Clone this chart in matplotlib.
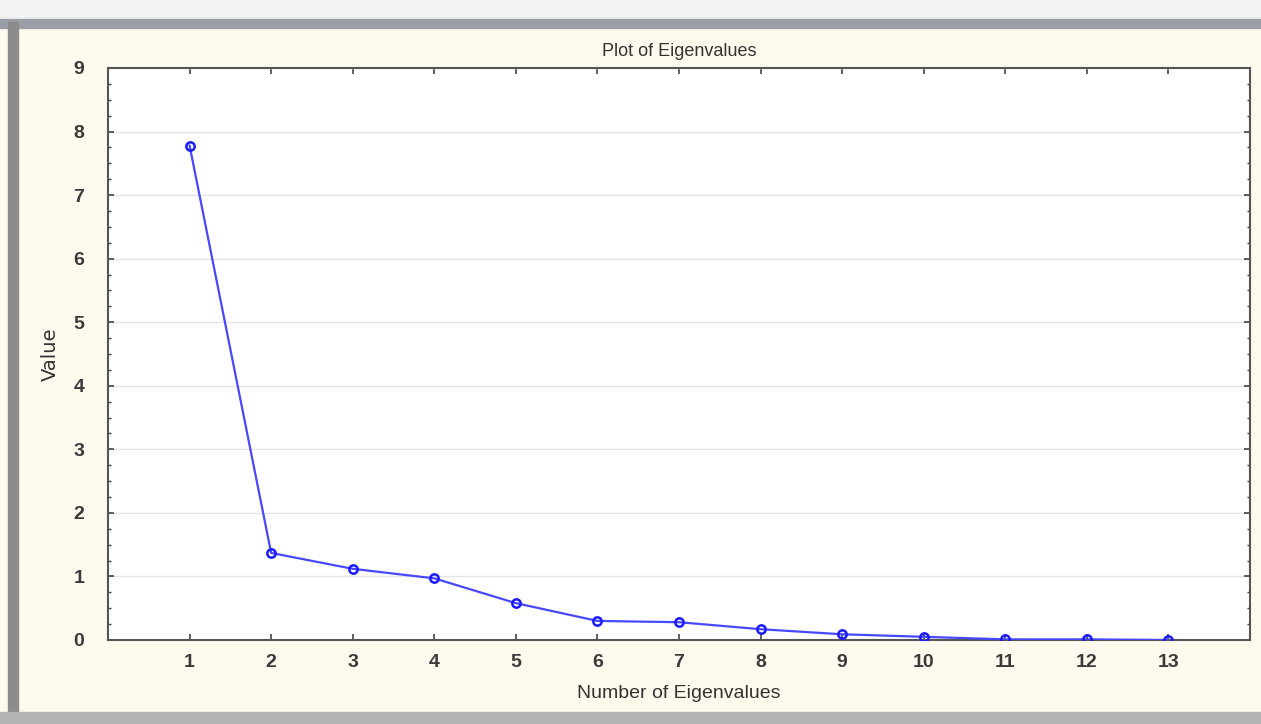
import matplotlib
matplotlib.use('Agg')
import matplotlib.pyplot as plt
from matplotlib.patches import Rectangle
from matplotlib.ticker import MultipleLocator

plt.rcParams['font.family'] = ['Liberation Sans', 'DejaVu Sans']

# eigenvalue data
numbers = [1, 2, 3, 4, 5, 6, 7, 8, 9, 10, 11, 12, 13]
eigenvalues = [7.78, 1.37, 1.12, 0.97, 0.58, 0.30, 0.28, 0.17, 0.09, 0.05, 0.01, 0.01, 0.0]
y_ticks = [0, 1, 2, 3, 4, 5, 6, 7, 8, 9]

fig = plt.figure(figsize=(12.61, 7.24), dpi=100)
fig.patch.set_facecolor('#fffaee')

# window frame bits from the screenshot
fig.patches.append(Rectangle((0, 0.972), 1, 0.028, transform=fig.transFigure, color='#f2f2f2', zorder=0))
fig.patches.append(Rectangle((0, 0.962), 1, 0.012, transform=fig.transFigure, color='#9a9ea6', zorder=0))
fig.patches.append(Rectangle((0.006, 0), 0.008, 0.97, transform=fig.transFigure, color='#8c8c8c', zorder=0))
fig.patches.append(Rectangle((0, 0), 1, 0.016, transform=fig.transFigure, color='#b4b4b4', zorder=0))

ax = fig.add_axes([108/1261, 1-640/724, (1250-108)/1261, (640-68)/724])
ax.set_facecolor('white')

ax.plot(numbers, eigenvalues, color='#4848ff', lw=1.6, marker='o', ms=6,
        mfc='none', mec='#1a1aff', mew=1.8, zorder=3)

ax.set_xlim(0, 14)
ax.set_ylim(0, 9)
ax.set_xticks(numbers)
ax.set_yticks(y_ticks)
ax.yaxis.set_minor_locator(MultipleLocator(0.25))
ax.grid(axis='y', which='major', color='#e4e4e4', lw=1)
ax.set_axisbelow(True)

ax.tick_params(axis='both', which='major', direction='in', length=4, width=1.2,
               top=True, right=True, colors='#444444', labelsize=14, pad=10)
ax.tick_params(axis='y', which='minor', direction='in', length=2, width=1,
               left=True, right=True, colors='#444444')
for lab in ax.get_xticklabels() + ax.get_yticklabels():
    lab.set_fontweight('bold')
    lab.set_color('#3a3a3a')
ax.tick_params(axis='y', pad=17)

for s in ax.spines.values():
    s.set_color('#555555')
    s.set_linewidth(1.5)

ax.set_title('Plot of Eigenvalues', fontsize=13, color='#333333', pad=9)
ax.set_xlabel('Number of Eigenvalues', fontsize=14, color='#333333', labelpad=10)
ax.set_ylabel('Value', fontsize=14, color='#333333', family='Liberation Sans Narrow', labelpad=10)

fig.savefig('out.png', dpi=100, facecolor=fig.get_facecolor())
